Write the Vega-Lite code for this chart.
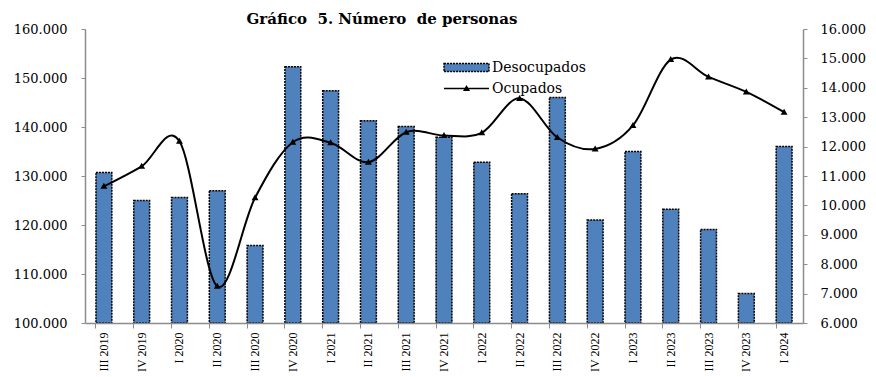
{
  "$schema": "https://vega.github.io/schema/vega-lite/v6.json",
  "width": 718,
  "height": 294,
  "autosize": {"type": "none"},
  "padding": {"left": 85, "top": 29, "right": 73, "bottom": 54},
  "background": "white",
  "config": {
    "view": {"stroke": null},
    "locale": {"number": {"decimal": ",", "thousands": ".", "grouping": [3], "currency": ["", ""]}}
  },
  "title": {
    "text": "Gráfico\u00a0 5. Número\u00a0 de personas",
    "font": "DejaVu Serif",
    "fontSize": 15,
    "fontWeight": "bold",
    "color": "black",
    "anchor": "middle",
    "dx": -62,
    "offset": -4
  },
  "data": {
    "values": [
      {"periodo": "III 2019", "desocupados": 130700, "ocupados": 10650},
      {"periodo": "IV 2019", "desocupados": 125000, "ocupados": 11330},
      {"periodo": "I 2020", "desocupados": 125600, "ocupados": 12180},
      {"periodo": "II 2020", "desocupados": 127000, "ocupados": 7250},
      {"periodo": "III 2020", "desocupados": 115800, "ocupados": 10260},
      {"periodo": "IV 2020", "desocupados": 152300, "ocupados": 12150},
      {"periodo": "I 2021", "desocupados": 147400, "ocupados": 12130},
      {"periodo": "II 2021", "desocupados": 141300, "ocupados": 11470},
      {"periodo": "III 2021", "desocupados": 140100, "ocupados": 12490},
      {"periodo": "IV 2021", "desocupados": 137900, "ocupados": 12380},
      {"periodo": "I 2022", "desocupados": 132800, "ocupados": 12470},
      {"periodo": "II 2022", "desocupados": 126400, "ocupados": 13640},
      {"periodo": "III 2022", "desocupados": 146000, "ocupados": 12310},
      {"periodo": "IV 2022", "desocupados": 121000, "ocupados": 11920},
      {"periodo": "I 2023", "desocupados": 135000, "ocupados": 12720},
      {"periodo": "II 2023", "desocupados": 123200, "ocupados": 14960},
      {"periodo": "III 2023", "desocupados": 119100, "ocupados": 14370},
      {"periodo": "IV 2023", "desocupados": 106000, "ocupados": 13860},
      {"periodo": "I 2024", "desocupados": 136000, "ocupados": 13170}
    ]
  },
  "encoding": {
    "x": {
      "field": "periodo",
      "type": "nominal",
      "sort": null,
      "scale": {"paddingInner": 0.58, "paddingOuter": 0.29},
      "axis": {
        "title": null,
        "labelAngle": -90,
        "labelFont": "Liberation Serif",
        "labelFontSize": 12,
        "labelColor": "black",
        "labelPadding": 4,
        "domainColor": "#8c8c8c",
        "domainWidth": 1.5,
        "tickColor": "#8c8c8c",
        "tickSize": 5,
        "bandPosition": 0,
        "zindex": 1
      }
    }
  },
  "layer": [
    {
      "mark": {"type": "bar", "clip": true, "stroke": "black", "strokeWidth": 1.5, "strokeDash": [2, 1]},
      "encoding": {
        "y": {
          "field": "desocupados",
          "type": "quantitative",
          "scale": {"domain": [100000, 160000], "nice": false, "zero": false},
          "axis": {
            "orient": "left",
            "title": null,
            "values": [100000, 110000, 120000, 130000, 140000, 150000, 160000],
            "format": ",.0f",
            "grid": false,
            "labelOverlap": false,
            "labelBound": false,
            "labelFont": "DejaVu Serif",
            "labelFontSize": 13,
            "labelColor": "black",
            "labelPadding": 14,
            "domainColor": "#8c8c8c",
            "domainWidth": 1.5,
            "tickColor": "#8c8c8c",
            "tickSize": 4,
            "zindex": 1
          }
        },
        "y2": {"datum": 100000},
        "fill": {
          "datum": "Desocupados",
          "type": "nominal",
          "scale": {"range": ["#4F81BD"]},
          "legend": {
            "title": null,
            "orient": "none",
            "legendX": 358,
            "legendY": 15,
            "symbolType": "M-1,-0.18H1V0.18H-1Z",
            "symbolSize": 2025,
            "symbolStrokeColor": "black",
            "symbolStrokeWidth": 1.5,
            "symbolDash": [2, 1],
            "labelFont": "DejaVu Serif",
            "labelFontSize": 14,
            "labelColor": "black",
            "labelOffset": 2
          }
        }
      }
    },
    {
      "mark": {
        "type": "line",
        "interpolate": "cardinal",
        "strokeWidth": 2,
        "point": {"shape": "triangle-up", "filled": true, "fill": "black", "size": 12, "opacity": 1}
      },
      "encoding": {
        "y": {
          "field": "ocupados",
          "type": "quantitative",
          "scale": {"domain": [6000, 16000], "nice": false, "zero": false},
          "axis": {
            "orient": "right",
            "title": null,
            "values": [6000, 7000, 8000, 9000, 10000, 11000, 12000, 13000, 14000, 15000, 16000],
            "format": ",.0f",
            "grid": false,
            "labelOverlap": false,
            "labelBound": false,
            "labelFont": "DejaVu Serif",
            "labelFontSize": 13,
            "labelColor": "black",
            "labelPadding": 13,
            "domainColor": "#8c8c8c",
            "domainWidth": 1.5,
            "tickColor": "#8c8c8c",
            "tickSize": 4,
            "zindex": 1
          }
        },
        "stroke": {
          "datum": "Ocupados",
          "type": "nominal",
          "scale": {"range": ["black"]},
          "legend": {
            "title": null,
            "orient": "none",
            "legendX": 358,
            "legendY": 36,
            "symbolType": "M-1,0H1M-0.1,0.08L0,-0.09L0.1,0.08Z",
            "symbolSize": 2025,
            "symbolStrokeWidth": 1.5,
            "symbolFillColor": "black",
            "labelFont": "DejaVu Serif",
            "labelFontSize": 14,
            "labelColor": "black",
            "labelOffset": 2
          }
        }
      }
    }
  ],
  "resolve": {"scale": {"y": "independent"}}
}
